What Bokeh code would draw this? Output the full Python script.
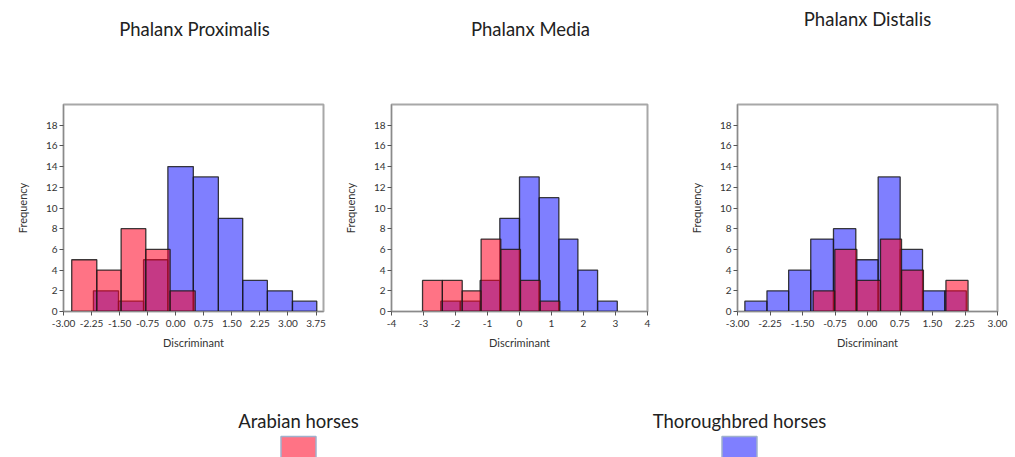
from bokeh.plotting import figure
from bokeh.layouts import column, row
from bokeh.models import FixedTicker, NumeralTickFormatter, Range1d
from bokeh.core.properties import value
from bokeh.embed import file_html
from bokeh.resources import INLINE

# ---------------- data ----------------
titles = ["Phalanx Proximalis", "Phalanx Media", "Phalanx Distalis"]
series_names = ["Arabian horses", "Thoroughbred horses"]

# Phalanx Proximalis
prox_arab_edges = [-2.78, -2.11, -1.46, -0.80, -0.15, 0.52]
prox_arab_counts = [5, 4, 8, 6, 2]
prox_thor_edges = [-2.20, -1.53, -0.86, -0.21, 0.47, 1.14, 1.79, 2.45, 3.12, 3.77]
prox_thor_counts = [2, 1, 5, 14, 13, 9, 3, 2, 1]
prox_xticks = [-3.0, -2.25, -1.5, -0.75, 0.0, 0.75, 1.5, 2.25, 3.0, 3.75]

# Phalanx Media
med_arab_edges = [-3.03, -2.41, -1.79, -1.20, -0.585, 0.03, 0.646, 1.26]
med_arab_counts = [3, 3, 2, 7, 6, 3, 1]
med_thor_edges = [-2.46, -1.85, -1.23, -0.615, 0.0, 0.615, 1.23, 1.825, 2.44, 3.056]
med_thor_counts = [1, 1, 3, 9, 13, 11, 7, 4, 1]
med_xticks = [-4, -3, -2, -1, 0, 1, 2, 3, 4]

# Phalanx Distalis
dist_arab_edges = [-1.254, -0.754, -0.246, 0.30, 0.785, 1.29, 1.81, 2.32]
dist_arab_counts = [2, 6, 3, 7, 4, 0, 3]
dist_thor_edges = [-2.83, -2.32, -1.82, -1.31, -0.785, -0.27, 0.246, 0.754, 1.27, 1.785, 2.28]
dist_thor_counts = [1, 2, 4, 7, 8, 5, 13, 6, 2, 2]
dist_xticks = [-3.0, -2.25, -1.5, -0.75, 0.0, 0.75, 1.5, 2.25, 3.0]

yticks = [0, 2, 4, 6, 8, 10, 12, 14, 16, 18]

# ---------------- style ----------------
FONT = "Lato"
ARAB = "#ff0020"
ARAB_ALPHA = 0.55
THOR = "#0000ff"
THOR_ALPHA = 0.5
BIG = "18.5px"

# ---------------- title strip ----------------
top = figure(width=1015, height=70, output_backend="svg", toolbar_location=None,
             x_range=Range1d(0, 1015), y_range=Range1d(70, 0), min_border=0)
top.axis.visible = False
top.grid.visible = False
top.outline_line_color = None
top.text(x=[194, 530, 867], y=[28, 28, 18], text=titles, text_font=value(FONT),
         text_font_size=BIG, text_align="center", text_baseline="middle",
         text_color="#222222")


def panel(arab_edges, arab_counts, thor_edges, thor_counts, xticks,
          x_range, fmt, width, bl, br):
    p = figure(width=width, height=292, output_backend="svg",
               toolbar_location=None, x_range=Range1d(*x_range),
               y_range=Range1d(0, 20), min_border_left=bl, min_border_right=br,
               min_border_top=34, min_border_bottom=51)
    p.quad(left=thor_edges[:-1], right=thor_edges[1:], bottom=0, top=thor_counts,
           fill_color=THOR, fill_alpha=THOR_ALPHA, line_color="#1a1a1a",
           line_width=1.3, line_alpha=0.85)
    p.quad(left=arab_edges[:-1], right=arab_edges[1:], bottom=0, top=arab_counts,
           fill_color=ARAB, fill_alpha=ARAB_ALPHA, line_color="#1a1a1a",
           line_width=1.3, line_alpha=0.85)
    p.xgrid.visible = False
    p.ygrid.visible = False
    p.outline_line_color = "#a8a8a8"
    p.outline_line_width = 2
    for ax in (p.xaxis[0], p.yaxis[0]):
        ax.axis_line_color = "#8a8a8a"
        ax.axis_line_width = 1
        ax.major_tick_line_color = "#555555"
        ax.major_tick_out = 4
        ax.major_tick_in = 0
        ax.minor_tick_line_color = None
        ax.major_label_text_font = FONT
        ax.major_label_text_font_size = "10px"
        ax.major_label_text_color = "#333333"
        ax.axis_label_text_font = FONT
        ax.axis_label_text_font_size = "11px"
        ax.axis_label_text_font_style = "normal"
        ax.axis_label_text_color = "#333333"
    p.yaxis[0].ticker = FixedTicker(ticks=yticks)
    p.yaxis[0].axis_label = "Frequency"
    p.yaxis[0].major_label_standoff = 2
    p.yaxis[0].axis_label_standoff = 14
    p.xaxis[0].ticker = FixedTicker(ticks=xticks)
    p.xaxis[0].formatter = NumeralTickFormatter(format=fmt)
    p.xaxis[0].axis_label = "Discriminant"
    p.xaxis[0].major_label_standoff = 4
    p.xaxis[0].axis_label_standoff = 6
    return p


p1 = panel(prox_arab_edges, prox_arab_counts, prox_thor_edges, prox_thor_counts,
           prox_xticks, (-3.0, 3.95), "0.00", 340, 63, 17)
p2 = panel(med_arab_edges, med_arab_counts, med_thor_edges, med_thor_counts,
           med_xticks, (-4, 4), "0", 340, 47, 33)
p3 = panel(dist_arab_edges, dist_arab_counts, dist_thor_edges, dist_thor_counts,
           dist_xticks, (-3.0, 3.0), "0.00", 335, 57, 18)

# ---------------- legend strip ----------------
leg = figure(width=1015, height=95, output_backend="svg", toolbar_location=None,
             x_range=Range1d(0, 1015), y_range=Range1d(95, 0), min_border=0)
leg.axis.visible = False
leg.grid.visible = False
leg.outline_line_color = None
leg_x = [298, 739]
leg_colors = [ARAB, THOR]
leg_alphas = [ARAB_ALPHA, THOR_ALPHA]
leg.text(x=leg_x, y=[58, 58], text=series_names, text_font=value(FONT),
         text_font_size=BIG, text_align="center", text_baseline="middle",
         text_color="#222222")
leg.rect(x=leg_x, y=[85, 85], width=35, height=22, fill_color=leg_colors,
         fill_alpha=leg_alphas, line_color="#9fb0cc", line_width=1.5)

layout = column(top, row(p1, p2, p3), leg)
open("out.html", "w").write(file_html(layout, INLINE))
